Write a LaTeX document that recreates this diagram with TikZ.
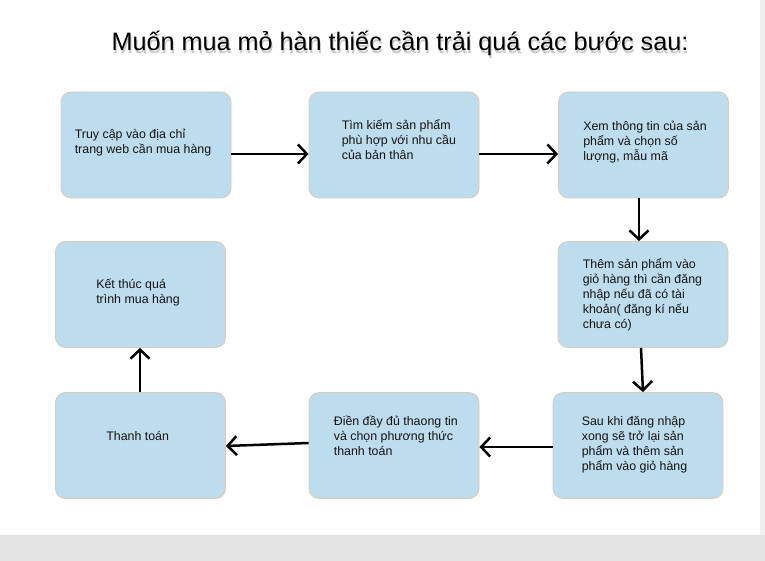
\documentclass[tikz,border=0pt]{standalone}
\usepackage{fontspec}
\setmainfont{Liberation Sans}
\usetikzlibrary{arrows.meta}
\definecolor{boxfill}{HTML}{BDDCED}
\definecolor{boxline}{HTML}{DCCAB5}
\definecolor{inktext}{HTML}{141414}
\definecolor{pagegray}{HTML}{E4E4E4}
\definecolor{edgegray}{HTML}{EFEFEF}
\begin{document}
\begin{tikzpicture}[x=1pt, y=-1pt,
  stepbox/.style={draw=boxline, line width=0.8pt, fill=boxfill, rounded corners=10pt, minimum width=170pt, minimum height=106pt, inner sep=0pt},
  steptext/.style={anchor=west, align=left, inner sep=0pt, text=inktext, font=\fontsize{12.4}{15}\selectfont},
  flow/.style={-{Straight Barb[length=9pt, width=19pt]}, line width=2.5pt}]
\useasboundingbox (0,0) rectangle (765,561);
\fill[white] (0,0) rectangle (765,561);
\fill[edgegray] (760,0) rectangle (765,535);
\fill[pagegray] (0,535) rectangle (765,561);
% title with soft shadow
\node[font=\fontsize{25.2}{30}\selectfont, text=black, opacity=0.22] (shadow) at (401,46) {Muốn mua mỏ hàn thiếc cần trải quá các bước sau:};
\node[font=\fontsize{25.2}{30}\selectfont, text=black] (title) at (400,43) {Muốn mua mỏ hàn thiếc cần trải quá các bước sau:};
% boxes
\node[stepbox] (b1) at (146,145) {};
\node[stepbox] (b2) at (394,145) {};
\node[stepbox] (b3) at (643.5,145) {};
\node[stepbox] (b4) at (643,294.5) {};
\node[stepbox] (b5) at (140.5,294.5) {};
\node[stepbox] (b6) at (638,445.5) {};
\node[stepbox] (b7) at (394,445.5) {};
\node[stepbox] (b8) at (140.5,445.5) {};
% texts
\node[steptext] (t1) at ([xshift=14pt, yshift=2pt]b1.west) {Truy cập vào địa chỉ\\trang web cần mua hàng};
\node[steptext] (t2) at ([xshift=33pt, yshift=5pt]b2.west) {Tìm kiếm sản phẩm\\phù hợp với nhu cầu\\của bản thân};
\node[steptext] (t3) at ([xshift=25pt, yshift=3pt]b3.west) {Xem thông tin của sản\\phẩm và chọn số\\lượng, mẫu mã};
\node[steptext] (t4) at ([xshift=25pt]b4.west) {Thêm sản phẩm vào\\giỏ hàng thì cần đăng\\nhập nếu đã có tài\\khoản( đăng kí nếu\\chưa có)};
\node[steptext] (t5) at ([xshift=41pt, yshift=2pt]b5.west) {Kết thúc quá\\trình mua hàng};
\node[steptext] (t6) at ([xshift=29pt, yshift=1pt]b6.west) {Sau khi đăng nhập\\xong sẽ trở lại sản\\phẩm và thêm sản\\phẩm vào giỏ hàng};
\node[steptext] (t7) at ([xshift=25pt, yshift=10pt]b7.west) {Điền đầy đủ thaong tin\\và chọn phương thức\\thanh toán};
\node[steptext] (t8) at ([xshift=51pt, yshift=10pt]b8.west) {Thanh toán};
% arrows
\draw[flow] ([yshift=-9pt]b1.east) -- ([yshift=-9pt]b2.west);
\draw[flow] ([yshift=-9pt]b2.east) -- ([yshift=-9pt]b3.west);
\draw[flow] ([xshift=-4.5pt]b3.south) -- ([xshift=-4pt]b4.north);
\draw[flow] ([xshift=-2pt]b4.south) -- ([xshift=5pt]b6.north);
\draw[flow] ([yshift=-1.5pt]b6.west) -- ([yshift=-1.5pt]b7.east);
\draw[flow] ([yshift=2.5pt]b7.west) -- ([yshift=-0.5pt]b8.east);
\draw[flow] ([xshift=-0.5pt]b8.north) -- ([xshift=-0.5pt]b5.south);
\end{tikzpicture}
\end{document}
